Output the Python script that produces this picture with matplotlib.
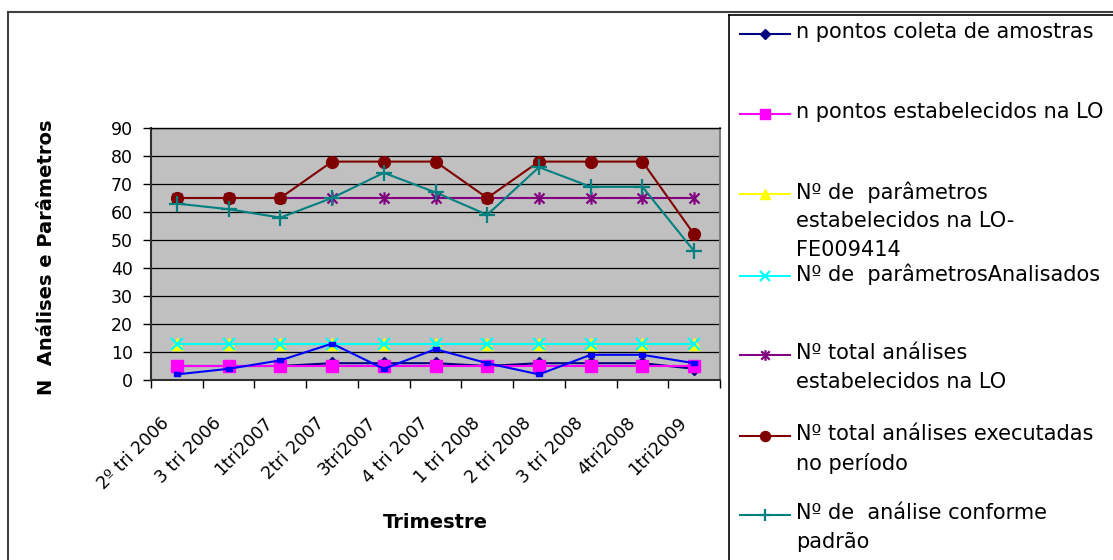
import matplotlib
matplotlib.use("Agg")
import matplotlib.pyplot as plt
import numpy as np
from matplotlib.lines import Line2D
from matplotlib.path import Path
from matplotlib.transforms import ScaledTranslation

plt.rcParams["font.family"] = ["DejaVu Sans"]

# ---- data -------------------------------------------------------------
trimestres = ["2º tri 2006", "3 tri 2006", "1tri2007", "2tri 2007", "3tri2007",
              "4 tri 2007", "1 tri 2008", "2 tri 2008", "3 tri 2008", "4tri2008",
              "1tri2009"]

pontos_coleta = [5, 5, 5, 6, 6, 6, 5, 6, 6, 6, 4]
pontos_lo = [5, 5, 5, 5, 5, 5, 5, 5, 5, 5, 5]
parametros_lo = [13, 13, 13, 13, 13, 13, 13, 13, 13, 13, 13]
parametros_analisados = [13, 13, 13, 13, 13, 13, 13, 13, 13, 13, 13]
total_lo = [65, 65, 65, 65, 65, 65, 65, 65, 65, 65, 65]
total_executadas = [65, 65, 65, 78, 78, 78, 65, 78, 78, 78, 52]
analise_conforme = [63, 61, 58, 65, 74, 67, 59, 76, 69, 69, 46]
pontos_amostrados = [2, 4, 7, 13, 4, 11, 6, 2, 9, 9, 6]

rotulos = ["n pontos coleta de amostras",
           "n pontos estabelecidos na LO",
           "Nº de  parâmetros\nestabelecidos na LO-\nFE009414",
           "Nº de  parâmetrosAnalisados",
           "Nº total análises\nestabelecidos na LO",
           "Nº total análises executadas\nno período",
           "Nº de  análise conforme\npadrão"]

# ---- marker shapes ----------------------------------------------------
asterisco = Path([(0, -1), (0, 1), (-0.8, -0.8), (0.8, 0.8), (-0.8, 0.8), (0.8, -0.8)],
                 [Path.MOVETO, Path.LINETO, Path.MOVETO, Path.LINETO, Path.MOVETO, Path.LINETO])
traco = Path([(-1, -0.55), (1, -0.55), (1, 0.55), (-1, 0.55), (-1, -0.55)],
             [Path.MOVETO, Path.LINETO, Path.LINETO, Path.LINETO, Path.CLOSEPOLY])

estilos = [
    dict(color="#000080", marker="D", ms=6, mec="#000080", mfc="#000080", mew=1),
    dict(color="#FF00FF", marker="s", ms=8.5, mec="#FF00FF", mfc="#FF00FF", mew=1),
    dict(color="#FFFF00", marker="^", ms=9, mec="#FFFF00", mfc="#FFFF00", mew=1),
    dict(color="#00FFFF", marker="x", ms=8, mec="#00FFFF", mew=1.6),
    dict(color="#800080", marker=asterisco, ms=9, mec="#800080", mfc="none", mew=1.6),
    dict(color="#800000", marker="o", ms=8.5, mec="#800000", mfc="#800000", mew=1),
    dict(color="#008080", marker="+", ms=11, mec="#008080", mew=1.6),
]
estilo_extra = dict(color="#0000FF", marker=traco, ms=5, mec="#0000FF", mfc="#0000FF", mew=1)

series = [pontos_coleta, pontos_lo, parametros_lo, parametros_analisados,
          total_lo, total_executadas, analise_conforme]

# ---- figure -----------------------------------------------------------
W, H = 1113, 560
fig = plt.figure(figsize=(W / 100, H / 100), dpi=100)
fig.patch.set_facecolor("white")


def fx(px):
    return px / W


def fy(py):
    return 1 - py / H


ax = fig.add_axes([fx(151), fy(380), fx(720 - 151), (380 - 128) / H])
ax.set_facecolor("#C0C0C0")

x = np.arange(len(trimestres))
for vals, est, rot in zip(series, estilos, rotulos):
    ax.plot(x, vals, lw=1.5, label=rot, zorder=3, clip_on=False, **est)
ax.plot(x, pontos_amostrados, lw=1.5, zorder=3, clip_on=False, **estilo_extra)

ax.set_xlim(-0.5, len(trimestres) - 0.5)
ax.set_ylim(0, 90)
ax.set_yticks(np.arange(0, 91, 10))
ax.yaxis.grid(True, color="black", lw=0.9)
ax.set_axisbelow(True)
ax.tick_params(axis="y", direction="out", length=6, width=1, labelsize=12.5, pad=7)

ax.set_xticks(x)
ax.set_xticklabels(trimestres, rotation=45, ha="right", va="center",
                   rotation_mode="anchor", fontsize=12.5)
ax.tick_params(axis="x", which="major", length=0, pad=29)
deslocamento = ScaledTranslation(-0.10, 0, fig.dpi_scale_trans)
for rotulo_x in ax.get_xticklabels():
    rotulo_x.set_transform(rotulo_x.get_transform() + deslocamento)
ax.set_xticks(np.arange(-0.5, len(trimestres), 1), minor=True)
ax.tick_params(axis="x", which="minor", direction="out", length=6, width=1)

ax.spines["right"].set_color("#808080")
ax.spines["right"].set_linewidth(1.5)
ax.spines["top"].set_color("black")
ax.spines["top"].set_linewidth(1.0)
for lado in ["left", "bottom"]:
    ax.spines[lado].set_color("#303030")
    ax.spines[lado].set_linewidth(1.5)

fig.text(fx(47), fy(257), "N  Análises e Parâmetros", rotation=90, ha="center",
         va="center", fontsize=14, fontweight="bold")
fig.text(fx(435), fy(523), "Trimestre", ha="center", va="center",
         fontsize=14, fontweight="bold")

# ---- chart frame ------------------------------------------------------
fig.add_artist(Line2D([fx(8), fx(8)], [fy(12), fy(H + 5)], color="#404040", lw=1.5))
fig.add_artist(Line2D([fx(8), fx(W + 5)], [fy(12), fy(12)], color="#404040", lw=1.5))

# ---- legend box -------------------------------------------------------
fig.add_artist(Line2D([fx(729), fx(729)], [fy(15), fy(H + 5)], color="black", lw=1.2))
fig.add_artist(Line2D([fx(729), fx(W + 5)], [fy(15), fy(15)], color="black", lw=1.2))

linha_y = [32, 112, 192, 274, 353, 434, 513]
passo = 29
for est, rot, y0 in zip(estilos, rotulos, linha_y):
    hy = y0 + 2
    leg = dict(est)
    leg["ms"] = est["ms"] * 0.85
    fig.add_artist(Line2D([fx(740), fx(765), fx(790)], [fy(hy)] * 3, lw=1.5,
                          markevery=[1], **leg))
    for i, parte in enumerate(rot.split("\n")):
        fig.text(fx(796), fy(y0 + i * passo), parte, ha="left", va="center",
                 fontsize=15)

fig.savefig("out.png", dpi=100, facecolor="white")
